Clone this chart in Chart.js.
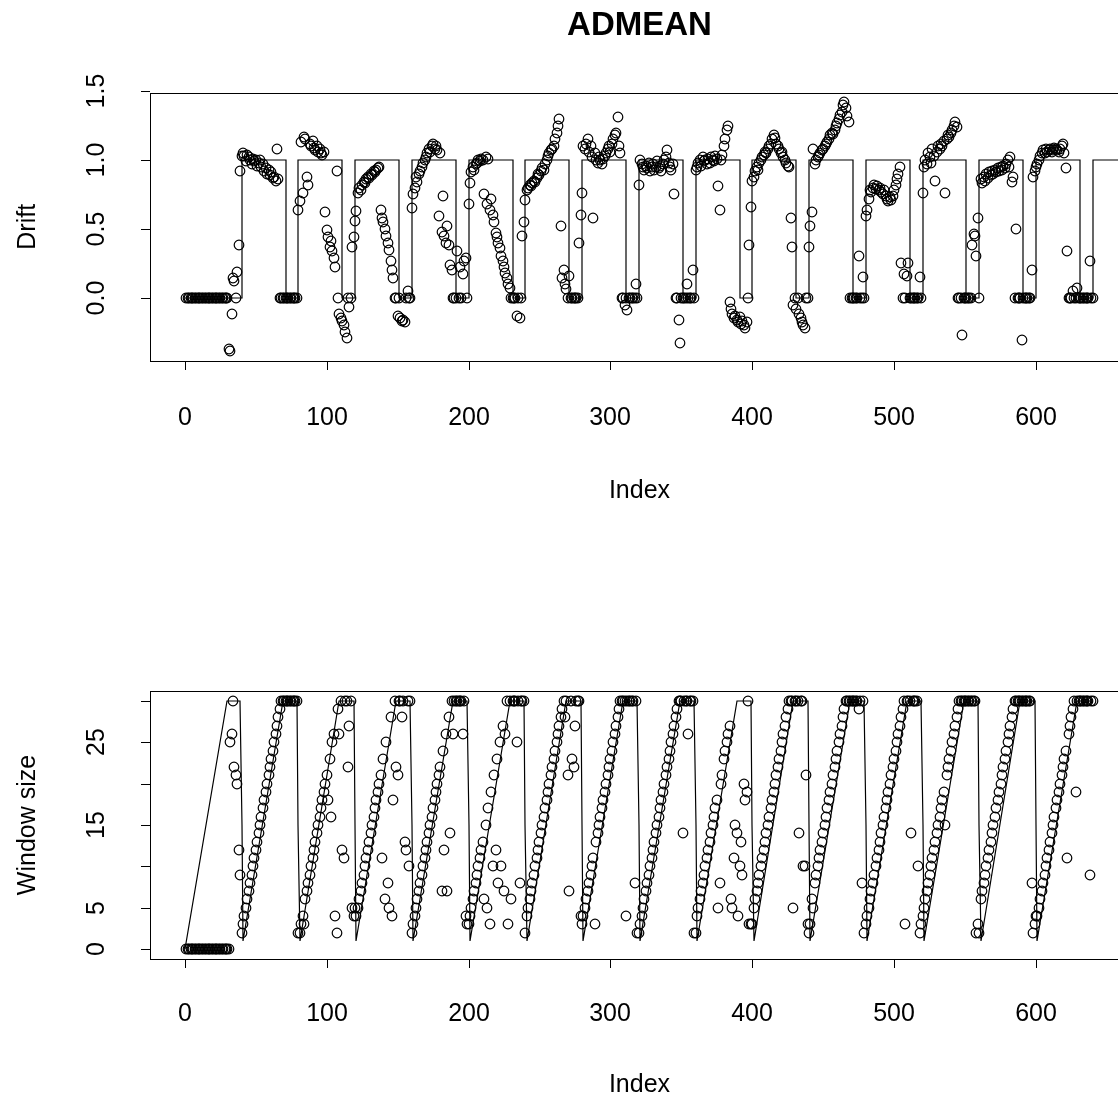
<!DOCTYPE html>
<html>
<head>
<meta charset="utf-8">
<title>ADMEAN</title>
<script src="https://cdn.jsdelivr.net/npm/chart.js@4.4.1/dist/chart.umd.min.js"></script>
<style>
  html, body { margin: 0; padding: 0; background: #fff; }
  body { width: 1118px; height: 1103px; overflow: hidden; position: relative; }
  canvas { position: absolute; left: 0; display: block; }
  #drift-chart  { top: 0; }
  #window-chart { top: 552px; }
</style>
</head>
<body>
<canvas id="drift-chart" width="1140" height="552"></canvas>
<canvas id="window-chart" width="1140" height="551"></canvas>
<script>
'use strict';

// ── Data ──────────────────────────────────────────────
// drift estimate per index (1..640)
const driftEst = [
  0, 0, 0, 0, 0, 0, 0, 0, 0, 0, 0, 0, 0, 0, 0, 0, 0, 0, 0, 0,
  0, 0, 0, 0, 0, 0, 0, 0, 0, 0, -0.37, -0.39, -0.12, 0.14, 0.12, 0, 0.19, 0.38, 0.92, 1.03,
  1.05, 1.03, 0.99, 1.04, 1.02, 1.00, 0.97, 1.01, 0.99, 1.00, 0.96, 0.98, 1.00, 0.95, 0.97, 0.92, 0.94, 0.90, 0.93, 0.89,
  0.91, 0.87, 0.88, 0.85, 1.08, 0.86, 0, 0, 0, 0, 0, 0, 0, 0, 0, 0, 0, 0, 0, 0.64,
  0.70, 1.13, 0.76, 1.17, 1.15, 0.88, 0.82, 1.12, 1.10, 1.14, 1.09, 1.07, 1.10, 1.06, 1.08, 1.05, 1.04, 1.06, 0.62, 0.49,
  0.44, 0.37, 0.41, 0.34, 0.29, 0.22, 0.92, 0, -0.12, -0.15, -0.17, -0.20, -0.25, -0.29, 0, -0.07, 0, 0.37, 0.44, 0.56,
  0.63, 0.76, 0.80, 0.78, 0.82, 0.84, 0.83, 0.86, 0.88, 0.87, 0.90, 0.89, 0.92, 0.91, 0.93, 0.94, 0.95, 0.64, 0.58, 0.55,
  0.50, 0.45, 0.40, 0.35, 0.27, 0.20, 0.14, 0, 0, -0.13, 0, -0.15, -0.17, -0.16, -0.18, 0, 0.05, 0, 0, 0.65,
  0.75, 0.80, 0.88, 0.84, 0.90, 0.92, 0.95, 0.98, 1.00, 1.02, 1.05, 1.08, 1.06, 1.10, 1.12, 1.08, 1.10, 1.07, 0.59, 1.05,
  0.48, 0.74, 0.45, 0.40, 0.52, 0.38, 0.24, 0.20, 0, 0, 0, 0.34, 0, 0.22, 0, 0.17, 0.27, 0.29, 0, 0.68,
  0.83, 0.91, 0.95, 0.93, 0.97, 0.98, 1.00, 0.99, 1.01, 1.00, 0.75, 1.02, 0.68, 1.01, 0.64, 0.72, 0.60, 0.55, 0.47, 0.44,
  0.40, 0.36, 0.30, 0.27, 0.22, 0.18, 0.14, 0.10, 0.07, 0, 0, 0, 0, -0.13, 0, -0.15, 0, 0.45, 0.55, 0.71,
  0.78, 0.80, 0.82, 0.81, 0.83, 0.85, 0.84, 0.87, 0.90, 0.89, 0.92, 0.94, 0.93, 0.97, 1.00, 1.03, 1.05, 1.07, 1.08, 1.10,
  1.15, 1.20, 1.25, 1.30, 0.52, 0.14, 0.20, 0.10, 0.06, 0, 0.16, 0, 0, 0, 0, 0, 0, 0.40, 0.60, 0.76,
  1.10, 1.08, 1.12, 1.15, 1.06, 1.10, 1.02, 0.58, 1.05, 1.00, 0.98, 1.02, 1.00, 0.97, 1.01, 1.03, 1.05, 1.08, 1.10, 1.06,
  1.12, 1.15, 1.18, 1.20, 1.31, 1.10, 1.05, 0, 0, -0.05, 0, -0.09, 0, 0, 0, 0, 0, 0.10, 0, 0.82,
  1.00, 0.97, 0.95, 0.93, 0.96, 0.94, 0.98, 0.92, 0.95, 0.97, 0.93, 0.95, 0.99, 0.94, 0.96, 0.92, 0.97, 1.00, 1.02, 1.07,
  0.98, 0.95, 0.93, 0.97, 0.75, 0, 0, -0.16, -0.33, 0, 0, 0, 0, 0.10, 0, 0, 0, 0.20, 0, 0.93,
  0.95, 0.98, 1.00, 0.96, 1.02, 0.99, 1.00, 0.97, 1.01, 0.98, 1.02, 1.00, 0.99, 1.03, 1.01, 0.81, 0.64, 1.00, 1.04, 1.10,
  1.15, 1.22, 1.25, -0.03, -0.08, -0.12, -0.15, -0.13, -0.16, -0.18, -0.14, -0.19, -0.17, -0.20, -0.22, -0.18, 0, 0.38, 0.66, 0.85,
  0.88, 0.92, 0.95, 0.93, 0.98, 1.00, 1.02, 1.04, 1.06, 1.05, 1.08, 1.10, 1.12, 1.15, 1.18, 1.16, 1.12, 1.10, 1.08, 1.05,
  1.06, 1.02, 1.00, 0.98, 0.96, 0.95, 0.58, 0.37, -0.05, 0, -0.08, 0, -0.12, -0.15, -0.18, -0.20, -0.22, 0, 0, 0.37,
  0.52, 0.62, 1.08, 0.97, 1.00, 1.02, 1.04, 1.05, 1.07, 1.08, 1.10, 1.12, 1.13, 1.15, 1.18, 1.20, 1.19, 1.22, 1.25, 1.27,
  1.30, 1.33, 1.35, 1.40, 1.42, 1.38, 1.32, 1.28, 0, 0, 0, 0, 0, 0, 0.30, 0, 0, 0.15, 0, 0.59,
  0.64, 0.72, 0.78, 0.77, 0.80, 0.82, 0.79, 0.81, 0.78, 0.80, 0.77, 0.75, 0.78, 0.74, 0.72, 0.70, 0.73, 0.71, 0.74, 0.78,
  0.82, 0.86, 0.90, 0.95, 0.25, 0, 0.17, 0, 0.16, 0.25, 0, 0, 0, 0, 0, 0, 0, 0.15, 0, 0.76,
  0.95, 1.00, 0.97, 1.05, 1.02, 0.98, 1.08, 1.03, 0.85, 1.06, 1.10, 1.08, 1.12, 1.10, 1.14, 0.76, 1.15, 1.18, 1.17, 1.20,
  1.22, 1.25, 1.28, 1.24, 0, 0, 0, -0.27, 0, 0, 0, 0, 0, 0, 0.38, 0.46, 0.45, 0.30, 0.58, 0,
  0.86, 0.83, 0.88, 0.85, 0.90, 0.87, 0.91, 0.89, 0.92, 0.90, 0.93, 0.91, 0.94, 0.92, 0.95, 0.93, 0.96, 0.94, 0.97, 1.00,
  0.95, 1.02, 0.84, 0.88, 0, 0.50, 0, 0, 0, -0.31, 0, 0, 0, 0, 0, 0, 0.20, 0.88, 0.92, 0.95,
  0.97, 1.00, 1.03, 1.05, 1.07, 1.05, 1.08, 1.06, 1.07, 1.08, 1.06, 1.07, 1.09, 1.08, 1.07, 1.06, 1.08, 1.10, 1.12, 1.05,
  0.94, 0.34, 0, 0, 0, 0.05, 0, 0, 0.07, 0, 0, 0, 0, 0, 0, 0, 0, 0.27, 0, 0,
];

// estimated window size per index (1..640)
const windowEst = [
  0, 0, 0, 0, 0, 0, 0, 0, 0, 0, 0, 0, 0, 0, 0, 0, 0, 0, 0, 0,
  0, 0, 0, 0, 0, 0, 0, 0, 0, 0, 0, 25, 26, 30, 22, 21, 20, 12, 9, 2,
  3, 4, 5, 6, 7, 8, 9, 10, 11, 12, 13, 14, 15, 16, 17, 18, 19, 20, 21, 22,
  23, 24, 25, 26, 27, 28, 29, 30, 30, 30, 30, 30, 30, 30, 30, 30, 30, 30, 30, 2,
  2, 3, 4, 3, 6, 7, 8, 9, 10, 11, 12, 13, 14, 15, 16, 17, 18, 19, 20, 21,
  18, 23, 16, 25, 26, 4, 2, 29, 26, 30, 12, 11, 30, 30, 22, 27, 30, 5, 4, 5,
  4, 5, 6, 7, 8, 9, 10, 11, 12, 13, 14, 15, 16, 17, 18, 19, 20, 21, 11, 23,
  6, 25, 8, 5, 28, 4, 18, 30, 22, 21, 30, 30, 28, 30, 13, 12, 30, 10, 30, 2,
  3, 4, 5, 6, 7, 8, 9, 10, 11, 12, 13, 14, 15, 16, 17, 18, 19, 20, 21, 22,
  7, 24, 12, 26, 7, 28, 14, 30, 26, 30, 30, 30, 30, 30, 30, 26, 30, 4, 3, 3,
  4, 5, 6, 7, 8, 9, 10, 11, 12, 13, 6, 15, 5, 17, 3, 19, 10, 21, 12, 23,
  8, 25, 10, 27, 7, 26, 30, 3, 30, 6, 30, 30, 30, 25, 30, 8, 30, 30, 30, 2,
  4, 5, 6, 7, 8, 9, 10, 11, 12, 13, 14, 15, 16, 17, 18, 19, 20, 21, 22, 23,
  24, 25, 26, 27, 28, 29, 30, 28, 30, 21, 7, 30, 23, 22, 27, 30, 30, 30, 4, 3,
  4, 5, 6, 7, 8, 9, 10, 11, 3, 13, 14, 15, 16, 17, 18, 19, 20, 21, 22, 23,
  24, 25, 26, 27, 28, 29, 30, 30, 30, 30, 4, 30, 30, 30, 30, 30, 8, 30, 2, 2,
  3, 4, 5, 6, 7, 8, 9, 10, 11, 12, 13, 14, 15, 16, 17, 18, 19, 20, 21, 22,
  23, 24, 25, 26, 27, 28, 29, 30, 30, 30, 14, 30, 30, 30, 26, 30, 30, 30, 2, 2,
  4, 5, 6, 7, 8, 9, 10, 11, 12, 13, 14, 15, 16, 17, 18, 5, 8, 20, 21, 23,
  24, 25, 26, 27, 6, 5, 11, 15, 14, 4, 10, 13, 9, 20, 18, 19, 30, 3, 3, 3,
  5, 6, 7, 8, 9, 10, 11, 12, 13, 14, 15, 16, 17, 18, 19, 20, 21, 22, 23, 24,
  25, 26, 27, 28, 29, 30, 30, 30, 5, 30, 30, 30, 14, 30, 30, 10, 10, 21, 3, 2,
  3, 6, 5, 8, 9, 10, 11, 12, 13, 14, 15, 16, 17, 18, 19, 20, 21, 22, 23, 24,
  25, 26, 27, 28, 29, 30, 30, 30, 30, 30, 30, 30, 30, 30, 29, 30, 8, 30, 2, 3,
  4, 5, 6, 7, 8, 9, 10, 11, 12, 13, 14, 15, 16, 17, 18, 19, 20, 21, 22, 23,
  24, 25, 26, 27, 28, 29, 30, 3, 30, 30, 30, 14, 30, 30, 30, 30, 10, 2, 3, 4,
  5, 6, 7, 8, 9, 10, 11, 12, 13, 14, 15, 16, 17, 18, 19, 15, 21, 22, 23, 24,
  25, 26, 27, 28, 29, 30, 30, 30, 30, 30, 30, 30, 30, 30, 30, 30, 30, 2, 3, 2,
  6, 7, 8, 9, 10, 11, 12, 13, 14, 15, 16, 17, 18, 19, 20, 21, 22, 23, 24, 25,
  26, 27, 28, 29, 30, 30, 30, 30, 30, 30, 30, 30, 30, 30, 30, 30, 8, 2, 3, 4,
  4, 5, 6, 7, 8, 9, 10, 11, 12, 13, 14, 15, 16, 17, 18, 19, 20, 21, 22, 23,
  24, 11, 26, 27, 28, 29, 30, 19, 30, 30, 30, 30, 30, 30, 30, 30, 30, 9, 30, 30,
];

// true drift: switches on / off at these indices
const driftOnAt  = [40, 80, 120, 160, 200, 240, 280, 320, 360, 400, 440, 480, 520, 560, 600, 640];
const driftOffAt = [71, 111, 151, 191, 231, 271, 311, 351, 391, 431, 471, 511, 551, 591, 631];
const DRIFT_END  = 680;

// true window size: vertices of the sawtooth
const winLineX = [
  0, 30, 39, 40, 41, 69, 79, 80, 81, 109, 119, 120, 121, 149, 159, 160, 161, 189,
  199, 200, 201, 229, 239, 240, 241, 269, 279, 280, 281, 309, 319, 320, 321, 349,
  359, 360, 361, 389, 399, 400, 401, 429, 439, 440, 441, 469, 479, 480, 481, 509,
  519, 520, 521, 549, 559, 560, 561, 589, 599, 600, 601, 629, 640,
];
const winLineY = [
  0, 30, 30, 15, 1, 30, 30, 15, 1, 30, 30, 15, 1, 30, 30, 15, 1, 30,
  30, 15, 1, 30, 30, 15, 1, 30, 30, 15, 1, 30, 30, 15, 1, 30,
  30, 15, 1, 30, 30, 15, 1, 30, 30, 15, 1, 30, 30, 15, 1, 30,
  30, 15, 1, 30, 30, 15, 1, 30, 30, 15, 1, 30, 30,
];

// ── Axes ──────────────────────────────────────────────
const xTicks       = [0, 100, 200, 300, 400, 500, 600];
const xTickLabels  = ['0', '100', '200', '300', '400', '500', '600'];
const driftTicks   = [0, 0.5, 1, 1.5];
const driftLabels  = ['0.0', '0.5', '1.0', '1.5'];
const windowTicks  = [0, 5, 10, 15, 20, 25, 30];
const windowLabels = ['0', '5', '', '15', '', '25', ''];

const X_MIN = -24.56, X_MAX = 665.56;   // index range + 4% each side

// ── Helpers ───────────────────────────────────────────
Chart.defaults.font.family = '"Liberation Sans", Arial, sans-serif';
Chart.defaults.color = '#000';

const FONT_AXIS = { size: 25 };
const INK = '#000';

function stepVertices() {
  const pts = [{ x: 0, y: 0 }];
  driftOnAt.forEach((on, i) => {
    pts.push({ x: on, y: 0 }, { x: on, y: 1 });
    if (i < driftOffAt.length) pts.push({ x: driftOffAt[i], y: 1 }, { x: driftOffAt[i], y: 0 });
  });
  pts.push({ x: DRIFT_END, y: 1 });
  return pts;
}

const plotBox = {
  id: 'plotBox',
  afterDraw(chart) {
    const { ctx, chartArea: a } = chart;
    ctx.save();
    ctx.strokeStyle = INK;
    ctx.lineWidth = 1;
    ctx.strokeRect(Math.round(a.left) + 0.5, Math.round(a.top) + 0.5,
                   Math.round(a.right - a.left), Math.round(a.bottom - a.top));
    ctx.restore();
  },
};

function panel(canvasId, o) {
  return new Chart(document.getElementById(canvasId), {
    type: 'scatter',
    data: {
      datasets: [
        {
          data: o.line,
          showLine: true,
          pointRadius: 0,
          borderColor: INK,
          borderWidth: 1.2,
          fill: false,
          order: 0,
        },
        {
          data: o.points,
          showLine: false,
          pointRadius: 4.8,
          pointBorderWidth: 1.2,
          pointBorderColor: INK,
          pointBackgroundColor: 'rgba(0,0,0,0)',
          order: 1,
        },
      ],
    },
    options: {
      responsive: false,
      animation: false,
      devicePixelRatio: 1,
      events: [],
      layout: { padding: { left: 0, right: 11, top: o.padTop, bottom: 0 } },
      plugins: {
        legend:  { display: false },
        tooltip: { enabled: false },
        title: o.title
          ? {
              display: true,
              text: o.title,
              fullSize: false,
              color: INK,
              font: { size: 33, weight: 'bold' },
              padding: { top: 6, bottom: 47 },
            }
          : { display: false },
      },
      scales: {
        x: {
          type: 'linear',
          min: X_MIN,
          max: X_MAX,
          bounds: 'data',
          alignToPixels: true,
          afterBuildTicks: s => { s.ticks = xTicks.map(v => ({ value: v })); },
          afterFit: s => { s.height = o.xAxisHeight; },
          grid:   { drawOnChartArea: false, drawTicks: true, tickLength: 9, color: INK, lineWidth: 1 },
          border: { display: false },
          ticks: {
            autoSkip: false,
            maxRotation: 0,
            padding: o.xTickPad,
            font: FONT_AXIS,
            color: INK,
            callback: (v, i) => xTickLabels[i],
          },
          title: {
            display: true,
            text: 'Index',
            font: FONT_AXIS,
            color: INK,
            padding: { top: 0, bottom: o.xTitlePad },
          },
        },
        y: {
          type: 'linear',
          min: o.yMin,
          max: o.yMax,
          bounds: 'data',
          alignToPixels: true,
          afterBuildTicks: s => { s.ticks = o.yTicks.map(v => ({ value: v })); },
          afterFit: s => { s.width = 150; },
          grid:   { drawOnChartArea: false, drawTicks: true, tickLength: 9, color: INK, lineWidth: 1 },
          border: { display: false },
          ticks: {
            autoSkip: false,
            minRotation: 90,
            maxRotation: 90,
            crossAlign: 'center',
            padding: o.yTickPad,
            font: FONT_AXIS,
            color: INK,
            callback: (v, i) => o.yLabels[i],
          },
          title: {
            display: true,
            text: o.yTitle,
            font: FONT_AXIS,
            color: INK,
            padding: { top: 13, bottom: 0 },
          },
        },
      },
    },
    plugins: [plotBox],
  });
}

// ── Panels ────────────────────────────────────────────
panel('drift-chart', {
  title: 'ADMEAN',
  padTop: 0,
  xAxisHeight: 191,
  xTickPad: 33,
  xTitlePad: 46,
  yMin: -0.46,
  yMax: 1.49,
  yTicks: driftTicks,
  yLabels: driftLabels,
  yTickPad: 27,
  yTitle: 'Drift',
  line: stepVertices(),
  points: driftEst.map((v, i) => ({ x: i + 1, y: v })),
});

panel('window-chart', {
  title: null,
  padTop: 139,
  xAxisHeight: 144,
  xTickPad: 31,
  xTitlePad: 3,
  yMin: -1.2,
  yMax: 31.2,
  yTicks: windowTicks,
  yLabels: windowLabels,
  yTickPad: 30,
  yTitle: 'Window size',
  line: winLineX.map((x, i) => ({ x, y: winLineY[i] })),
  points: windowEst.map((v, i) => ({ x: i + 1, y: v })),
});
</script>
</body>
</html>
